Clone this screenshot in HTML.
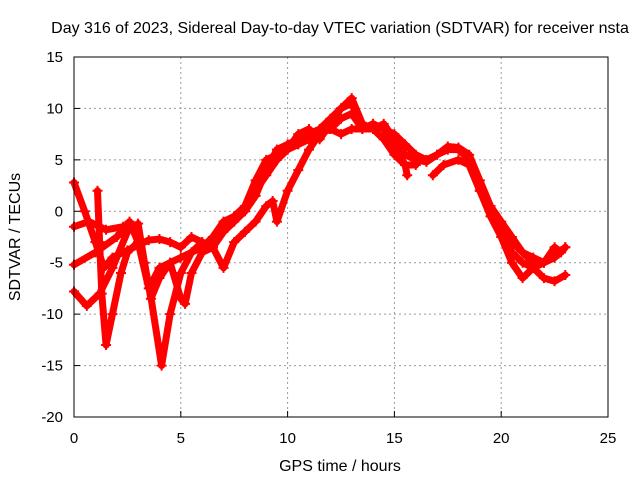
<!DOCTYPE html>
<html><head><meta charset="utf-8"><style>
body{margin:0;background:#fff;}
svg{display:block;font-family:"Liberation Sans",sans-serif;}
</style></head><body>
<svg id="chart" width="640" height="480">
<text x="340" y="33" text-anchor="middle" font-size="16">Day 316 of 2023, Sidereal Day-to-day VTEC variation (SDTVAR) for receiver nsta</text>
<text x="340" y="471" text-anchor="middle" font-size="16">GPS time / hours</text>
<text transform="translate(20,237) rotate(-90)" text-anchor="middle" font-size="16">SDTVAR / TECUs</text>
<g id="grid"></g><g id="series"></g>
<rect x="74" y="57" width="534" height="360" fill="none" stroke="#000" stroke-width="1"/>
</svg>
<script>
const xTicks=[0,5,10,15,20,25];
const yTicks=[15,10,5,0,-5,-10,-15,-20];
const s1=[[0,2.8],[0.5,0],[1,-3],[1.4,-5.5],[1.8,-4.5],[2.5,-3.8],[3,-3.3],[3.5,-2.8],[4,-2.7],[4.5,-3],[5,-3.5],[5.5,-2.5],[6,-3],[6.5,-3.5],[7,-2],[7.5,-1],[8,0],[8.5,2],[9,3.5],[9.5,5],[10,6],[10.5,6.5],[11,7],[11.5,7.5],[12,8],[12.5,9],[13,9.5],[13.5,8],[14,8.5],[14.5,8],[15,6.5],[15.5,4.5],[15.6,3.5]];
const s2=[[0,-1.5],[0.7,-1],[1.5,-1.8],[2.3,-1.5]];
const s3=[[0,-5.2],[1,-4],[2,-2.5],[2.6,-1],[3,-3],[3.5,-7],[4.1,-15],[4.5,-10],[5,-6],[5.5,-4],[6,-3],[6.5,-3.5],[7,-1.5],[7.5,-0.5],[8,0],[8.5,1.5],[9,4],[9.5,6],[10,6.5],[10.5,7],[11,7.5],[11.5,8],[12,9],[12.5,10],[13,11],[13.5,8.5],[14,8],[14.5,8.5],[15,7],[15.5,5.5],[16,5],[16.5,4.8],[17,5.5],[17.5,6.3],[18,6.2],[18.5,5.5],[19,3],[19.5,0.5],[20,-1],[20.5,-2.5],[21,-4],[21.5,-4.5],[22,-5],[22.5,-4.5],[23,-3.5]];
const s4=[[0,-7.8],[0.6,-9.2],[1.2,-8],[1.8,-5.5],[2.5,-2],[3,-1.2],[3.3,-5],[3.6,-8.5],[4,-6.5],[4.5,-5],[5,-4.5],[5.5,-4],[6,-3.5],[6.5,-2.5],[7,-1],[7.5,-0.5],[8,0.5],[8.5,3],[9,5],[9.5,5.5],[10,6],[10.5,7.5],[11,8],[11.5,7],[12,8.5],[12.5,10],[13,10.5],[13.5,8],[14,8.5],[15,7.5],[15.5,6.5],[16,5.5],[16.5,5],[17,5.5],[17.5,6],[18,6],[18.5,5],[19,2.5],[19.5,0],[20,-2],[20.5,-4],[21,-5],[21.5,-5.5],[22,-6.5],[22.5,-6.8],[23,-6.2]];
const s5=[[1.1,2],[1.2,-3],[1.3,-8],[1.5,-13],[1.8,-10],[2.2,-6],[2.5,-4],[3,-3],[3.5,-7.5],[4,-5.5],[4.5,-5],[5,-8.5],[5.2,-9],[5.5,-6],[6,-4],[6.5,-3.5],[7,-5.5],[7.5,-3],[8,-2],[8.5,-1],[9,0.5],[9.3,1],[9.5,-1],[10,2],[10.5,4],[11,6],[11.5,7.5],[12,8],[12.5,7.5],[13,8],[13.5,8],[14,8],[14.5,7],[15,5.5],[15.5,4.5],[16,4.5]];
const s6=[[16.8,3.5],[17.3,4.5],[18,5],[18.5,4.5],[19,2],[19.5,0],[20,-1.5],[20.5,-3],[21,-4],[21.5,-5],[22,-5],[22.5,-3.5],[22.8,-4],[23,-3.5]];
const s7=[[18.5,4.5],[19,2],[19.5,-0.5],[20,-2.5],[20.5,-5],[21,-6.5],[21.5,-5.5],[22,-5]];
const allSeries=[s1,s2,s3,s4,s5,s6,s7];
const NS="http://www.w3.org/2000/svg";
const X=h=>74+h*(534/25);
const Y=v=>57+(15-v)*(360/35);
const grid=document.getElementById('grid');
function mk(tag,attrs,parent){const e=document.createElementNS(NS,tag);for(const k in attrs)e.setAttribute(k,attrs[k]);parent.appendChild(e);return e;}
xTicks.forEach(t=>{
  if(t>0&&t<25){const l=mk('line',{x1:X(t),x2:X(t),y1:57,y2:417,stroke:'#999','stroke-dasharray':'2,3'},grid);
  
  }
  const tk=mk('line',{x1:X(t),x2:X(t),y1:417,y2:411,stroke:'#000'},grid);
  
  
  const tx=mk('text',{x:X(t),y:443,'text-anchor':'middle','font-size':15},grid);tx.textContent=t;
  
  
});
yTicks.forEach(t=>{
  if(t<15&&t>-20){const l=mk('line',{x1:74,x2:608,y1:Y(t),y2:Y(t),stroke:'#999','stroke-dasharray':'2,3'},grid);
  
  }
  const tk=mk('line',{x1:74,x2:80,y1:Y(t),y2:Y(t),stroke:'#000'},grid);
  
  
  const tx=mk('text',{x:63,y:Y(t)+5,'text-anchor':'end','font-size':15},grid);tx.textContent=t;
  
  
});
const sg=document.getElementById('series');
allSeries.forEach((s,i)=>{
  const pts=s.map(p=>X(p[0])+','+Y(p[1])).join(' ');
  const pl=mk('polyline',{points:pts,fill:'none',stroke:'#f00','stroke-width':7,'stroke-linejoin':'round','stroke-linecap':'round'},sg);
  
  
  s.forEach(p=>{
    const m=mk('path',{d:`M${X(p[0])-5},${Y(p[1])}h10M${X(p[0])},${Y(p[1])-5}v10`,stroke:'#f00','stroke-width':2},sg);
    
    
  });
});
</script>
</body></html>
